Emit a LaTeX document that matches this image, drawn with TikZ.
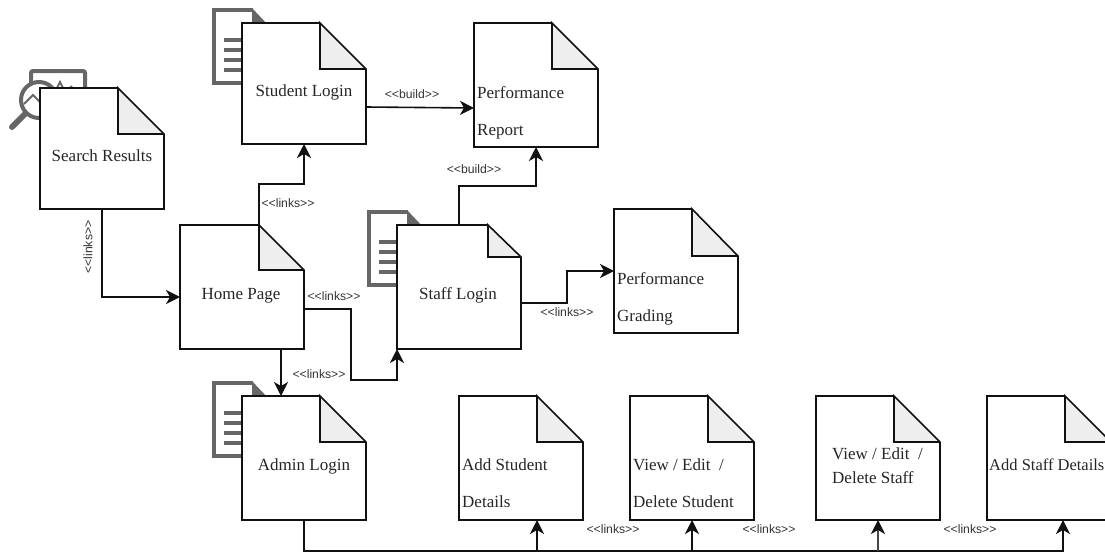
\documentclass[tikz,border=0pt]{standalone}
\usepackage{fontspec}
\setmainfont{Liberation Serif}
\newfontfamily\lblfont{Liberation Sans}
\usetikzlibrary{arrows.meta}
\definecolor{icongrey}{HTML}{666666}
\definecolor{foldgrey}{HTML}{EEEEEE}
\definecolor{linkblack}{HTML}{111111}
\tikzset{
  docbox/.style={anchor=north west,inner sep=0pt,outer sep=0pt,minimum width=124pt,minimum height=124pt,fill=white},
  docline/.style={draw=linkblack,line width=1.6pt,line join=miter},
  doctext/.style={font=\fontsize{17}{20}\selectfont,text=black!85,inner sep=0pt,align=center},
  doctextleft/.style={font=\fontsize{17}{37.5}\selectfont,text=black!85,inner sep=0pt,align=left,anchor=north west},
  flow/.style={draw=linkblack,line width=1.6pt,-{Stealth[length=14pt,width=14pt,inset=4pt,color=linkblack]}},
  linklabel/.style={font=\lblfont\fontsize{12.2}{14}\selectfont,text=black!80,inner sep=0pt},
  iconline/.style={draw=icongrey,line width=4pt},
}
% name, left, top, fold offset x, fold offset y; optional: height
\newcommand{\docnode}[6][124pt]{%
  \node[docbox,minimum height=#1] (#2) at (#3,#4) {};
  \fill[foldgrey] ([xshift=-#5pt]#2.north east) -- ([xshift=-#5pt,yshift=-#6pt]#2.north east) -- ([yshift=-#6pt]#2.north east) -- cycle;
  \draw[docline] ([xshift=-#5pt]#2.north east) -- (#2.north west) -- (#2.south west) -- (#2.south east) -- ([yshift=-#6pt]#2.north east) -- ([xshift=-#5pt]#2.north east) -- ([xshift=-#5pt,yshift=-#6pt]#2.north east) -- ([yshift=-#6pt]#2.north east);
}
% left, top of the grey page icon
\newcommand{\pageicon}[2]{%
  \begin{scope}[shift={(#1,#2)}]
    \fill[icongrey] (40,-2) -- (56,15) -- (40,15) -- cycle;
    \draw[iconline] (41,0) -- (2,0) -- (2,73) -- (60,73);
    \draw[iconline,line width=3.4pt] (12,30) -- (40,30) (12,40) -- (40,40) (12,50) -- (40,50) (12,60) -- (40,60);
  \end{scope}
}
\begin{document}
\begin{tikzpicture}[x=1pt,y=-1pt]
\useasboundingbox (0,0) rectangle (1105,552);
% icons
\draw[iconline,rounded corners=2pt] (31,90) -- (31,71) -- (85,71) -- (85,100);
\draw[icongrey,line width=1.8pt] (55,92) -- (60,82) -- (65,92) (68,90) -- (72,86);
\draw[iconline,fill=white] (39,100) circle (18);
\draw[icongrey,line width=6pt,line cap=round] (12,127) -- (25,114);
\draw[icongrey,line width=1.8pt] (24,104) -- (33,95) -- (40,102);
\pageicon{212}{10}
\pageicon{367}{212}
\pageicon{212}{383}
% documents
\docnode[121pt]{srch}{40}{88}{46}{46}
\docnode[121pt]{stu}{242}{23}{46}{46}
\docnode{home}{180}{225}{45}{45}
\docnode{staff}{397}{225}{33}{32}
\docnode{adm}{242}{396}{46}{46}
\docnode{rep}{474}{23}{46}{46}
\docnode{grd}{614}{209}{46}{47}
\docnode{adds}{459}{396}{46}{46}
\docnode{vstu}{630}{396}{46}{46}
\docnode{vsta}{816}{396}{46}{46}
\docnode{addt}{987}{396}{46}{46}
% texts
\node[doctext] (srch-t) at (102,156) {Search Results};
\node[doctext] (stu-t) at (304,92) {Student Login};
\node[doctext] (home-t) at (241,296) {Home Page};
\node[doctext] (staff-t) at (458,295) {Staff Login};
\node[doctext] (adm-t) at (304,466) {Admin Login};
\node[doctextleft] (rep-t) at (477,86) {Performance\\Report};
\node[doctextleft] (grd-t) at (617,272) {Performance\\Grading};
\node[doctextleft] (adds-t) at (462,458) {Add Student\\Details};
\node[doctextleft] (vstu-t) at (633,458) {View / Edit\ \ /\\Delete Student};
\node[doctext,align=left,anchor=north west] (vsta-t) at (832,447) {View / Edit\ \ /\\[4pt]Delete Staff};
\node[doctext,anchor=north west,font=\fontsize{16.5}{20}\selectfont] (addt-t) at (989,459) {Add Staff Details};
% connectors
\coordinate (bus) at (0,551);
\coordinate (addsin) at (537,520);
\coordinate (addtin) at (1063,520);
\draw[flow] (srch.south) |- (home.west |- 0,297);
\draw[flow] ([xshift=17pt]home.north) -- ++(0,-41) -| (stu.south);
\draw[flow] (stu.east |- 0,107) -- (rep.west |- 0,108);
\draw[flow] (staff.north) -- ++(0,-39) -| (rep.south);
\draw[flow] (home.east |- 0,309) -- ++(47,0) |- ++(46,71) -- (staff.south west);
\draw[flow] ([xshift=39pt]home.south) -- ([xshift=-23pt]adm.north);
\draw[flow] (staff.east |- 0,303) -- ++(46,0) |- (grd.west |- 0,271);
\draw[flow] (adm.south) -- (adm.south |- bus) -- (addtin |- bus) -- (addtin);
\draw[flow] (addsin |- bus) -- (addsin);
\draw[flow] (vstu.south |- bus) -- (vstu.south);
\draw[flow,draw=icongrey!70!black] (vsta.south |- bus) -- (vsta.south);
% connector labels
\node[linklabel,rotate=90] (l1) at (88,247) {<{}<links>{}>};
\node[linklabel] (l2) at (288,203) {<{}<links>{}>};
\node[linklabel] (l3) at (412,94) {<{}<build>{}>};
\node[linklabel] (l4) at (474,169) {<{}<build>{}>};
\node[linklabel] (l5) at (334,296) {<{}<links>{}>};
\node[linklabel] (l6) at (319,374) {<{}<links>{}>};
\node[linklabel] (l7) at (567,312) {<{}<links>{}>};
\node[linklabel] (l8) at (613,529) {<{}<links>{}>};
\node[linklabel] (l9) at (769,529) {<{}<links>{}>};
\node[linklabel] (l10) at (970,529) {<{}<links>{}>};
\end{tikzpicture}
\end{document}
